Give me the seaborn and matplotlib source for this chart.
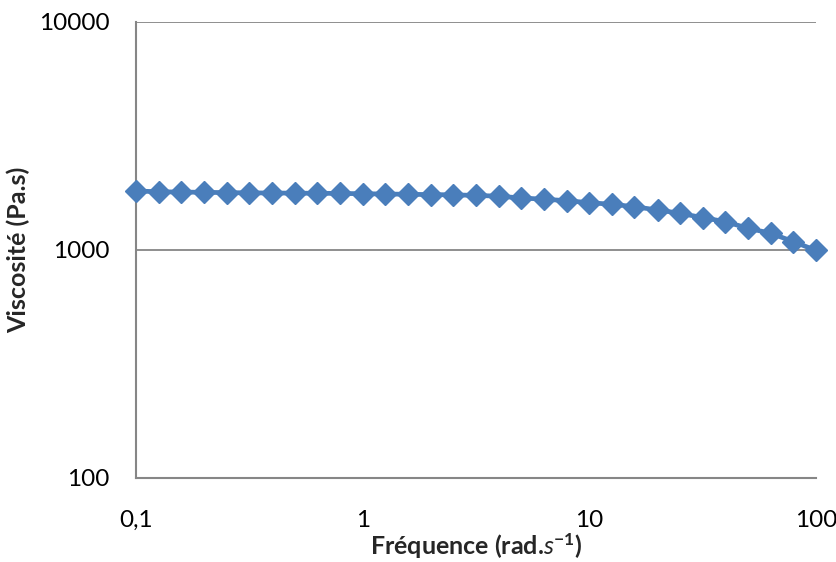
import numpy as np
import pandas as pd
import matplotlib
matplotlib.use("Agg")
import matplotlib.pyplot as plt
import seaborn as sns

# Frequency sweep (rad/s), 10 points per decade, and viscosity (Pa.s)
frequence = [0.1, 0.126, 0.158, 0.2, 0.251, 0.316, 0.398, 0.501, 0.631, 0.794,
             1.0, 1.26, 1.58, 2.0, 2.51, 3.16, 3.98, 5.01, 6.31, 7.94,
             10.0, 12.6, 15.8, 20.0, 25.1, 31.6, 39.8, 50.1, 63.1, 79.4, 100.0]
viscosite = [1815, 1800, 1795, 1790, 1785, 1780, 1778, 1775, 1773, 1770,
             1765, 1760, 1755, 1750, 1745, 1735, 1722, 1690, 1670, 1645,
             1612, 1586, 1548, 1497, 1449, 1386, 1331, 1245, 1184, 1088, 995]

x_ticks = [0.1, 1, 10, 100]
x_tick_labels = ["0,1", "1", "10", "100"]
y_ticks = [100, 1000, 10000]
y_tick_labels = ["100", "1000", "10000"]

df = pd.DataFrame({"freq": frequence, "visc": viscosite})

sns.set_style("white")
plt.rcParams['font.family'] = ['Lato', 'DejaVu Sans']
plt.rcParams['mathtext.fontset'] = 'custom'
plt.rcParams['mathtext.bf'] = 'Lato:bold'
plt.rcParams['mathtext.it'] = 'Lato:italic'
plt.rcParams['mathtext.rm'] = 'Lato'

fig = plt.figure(figsize=(8.37, 5.62), dpi=100)
ax = fig.add_axes([0.1625, 0.1495, 0.8125, 0.8114])

blue = "#4A7EBB"
sns.lineplot(data=df, x="freq", y="visc", ax=ax, color=blue, linewidth=3.4,
             marker="D", markersize=11, markeredgecolor=blue, markeredgewidth=1,
             clip_on=False, zorder=5)

ax.set_xscale("log")
ax.set_yscale("log")
ax.set_xlim(0.1, 100)
ax.set_ylim(100, 10000)
ax.minorticks_off()
ax.set_xticks(x_ticks)
ax.set_xticklabels(x_tick_labels)
ax.set_yticks(y_ticks)
ax.set_yticklabels(y_tick_labels)
ax.tick_params(axis="both", length=0, labelsize=17.5, colors="black")
ax.tick_params(axis="x", pad=23)
ax.tick_params(axis="y", pad=19)

ax.yaxis.grid(True, color="#868686", linewidth=1.3)
ax.xaxis.grid(False)
for side in ["top", "right"]:
    ax.spines[side].set_visible(False)
for side in ["left", "bottom"]:
    ax.spines[side].set_color("#868686")
    ax.spines[side].set_linewidth(1.5)

ax.set_xlabel(r"Fréquence (rad.$\mathbf{\mathit{s}}^{\mathbf{-1}}$)", fontsize=18, fontweight="bold", labelpad=0)
ax.set_ylabel("Viscosité (Pa.s)", fontsize=18, fontweight="bold", labelpad=6)

fig.savefig("out.png", dpi=100)
